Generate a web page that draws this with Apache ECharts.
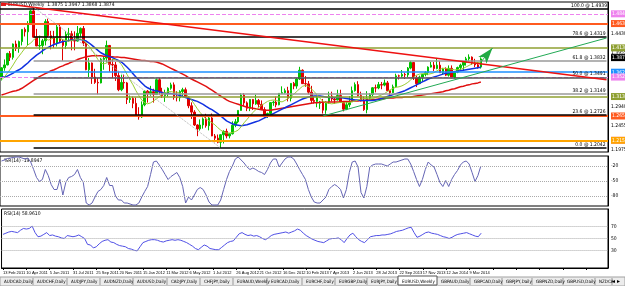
<!DOCTYPE html>
<html><head><meta charset="utf-8">
<script src="https://cdn.jsdelivr.net/npm/echarts/dist/echarts.min.js"></script>
<style>html,body{margin:0;padding:0;background:#fff;}#c{width:625px;height:286px;}</style>
</head><body><div id="c"></div><script>
// ---------- DATA ----------
const tickLabels = ['13 Feb 2011','10 Apr 2011','5 Jun 2011','31 Jul 2011','25 Sep 2011','20 Nov 2011','15 Jan 2012','11 Mar 2012','6 May 2012','1 Jul 2012','26 Aug 2012','21 Oct 2012','16 Dec 2012','10 Feb 2013','7 Apr 2013','2 Jun 2013','28 Jul 2013','22 Sep 2013','17 Nov 2013','12 Jan 2014','9 Mar 2014'];
// weekly candles [open, close, low, high]
const candles = [
[1.3490,1.3690,1.3430,1.3700],[1.3690,1.3750,1.3630,1.3862],[1.3750,1.3985,1.3740,1.4000],[1.3985,1.3905,1.3830,1.4036],
[1.3905,1.4180,1.3860,1.4190],[1.4180,1.4090,1.4035,1.4250],[1.4090,1.4230,1.4000,1.4250],[1.4230,1.4480,1.4150,1.4485],
[1.4480,1.4430,1.4335,1.4520],[1.4430,1.4580,1.4150,1.4650],[1.4580,1.4860,1.4580,1.4880],[1.4860,1.4320,1.4310,1.4939],
[1.4320,1.4140,1.4135,1.4490],[1.4140,1.4150,1.4060,1.4350],[1.4150,1.4245,1.3970,1.4285],[1.4245,1.4640,1.4150,1.4690],
[1.4640,1.4350,1.4320,1.4700],[1.4350,1.4305,1.4070,1.4450],[1.4305,1.4190,1.4100,1.4450],[1.4190,1.4530,1.4130,1.4580],
[1.4530,1.4240,1.4205,1.4580],[1.4240,1.4150,1.3835,1.4280],[1.4150,1.4380,1.4075,1.4440],[1.4380,1.4390,1.4230,1.4510],
[1.4390,1.4250,1.4050,1.4450],[1.4250,1.4240,1.4050,1.4440],[1.4240,1.4400,1.4230,1.4550],[1.4400,1.4500,1.4320,1.4520],
[1.4500,1.4200,1.4140,1.4550],[1.4200,1.3650,1.3640,1.4210],[1.3650,1.3790,1.3500,1.3890],[1.3790,1.3500,1.3360,1.3800],
[1.3500,1.3390,1.3360,1.3670],[1.3390,1.3380,1.3145,1.3500],[1.3380,1.3860,1.3370,1.3890],[1.3860,1.3890,1.3650,1.3920],
[1.3890,1.4150,1.3800,1.4250],[1.4150,1.3760,1.3610,1.4160],[1.3760,1.3750,1.3480,1.3875],[1.3750,1.3530,1.3420,1.3810],
[1.3530,1.3240,1.3210,1.3620],[1.3240,1.3390,1.3210,1.3550],[1.3390,1.3380,1.3260,1.3550],[1.3380,1.3040,1.2945,1.3400],
[1.3040,1.3060,1.2970,1.3120],[1.3060,1.2960,1.2860,1.3100],
[1.2960,1.2720,1.2710,1.3080],[1.2720,1.2680,1.2624,1.2880],[1.2680,1.2930,1.2660,1.3000],[1.2930,1.3210,1.2900,1.3230],
[1.3210,1.3160,1.2975,1.3235],[1.3160,1.3200,1.3110,1.3320],[1.3200,1.3140,1.2975,1.3260],[1.3140,1.3445,1.3140,1.3470],
[1.3445,1.3195,1.3140,1.3486],[1.3195,1.3120,1.3070,1.3280],[1.3120,1.3175,1.2990,1.3240],[1.3175,1.3270,1.3100,1.3290],
[1.3270,1.3340,1.3240,1.3385],[1.3340,1.3080,1.3035,1.3390],[1.3080,1.3075,1.3000,1.3210],[1.3075,1.3205,1.3000,1.3230],
[1.3205,1.3240,1.3110,1.3280],[1.3240,1.3090,1.3085,1.3285],[1.3090,1.2910,1.2860,1.3100],[1.2910,1.2780,1.2640,1.2980],
[1.2780,1.2515,1.2495,1.2820],[1.2515,1.2435,1.2285,1.2530],[1.2435,1.2515,1.2400,1.2630],[1.2515,1.2640,1.2440,1.2670],
[1.2640,1.2500,1.2460,1.2745],[1.2500,1.2660,1.2405,1.2690],[1.2660,1.2290,1.2285,1.2750],[1.2290,1.2245,1.2160,1.2330],
[1.2245,1.2160,1.2140,1.2320],[1.2160,1.2315,1.2042,1.2325],[1.2315,1.2385,1.2135,1.2405],[1.2385,1.2290,1.2240,1.2440],
[1.2290,1.2335,1.2240,1.2345],[1.2335,1.2510,1.2320,1.2590],[1.2510,1.2580,1.2470,1.2640],[1.2580,1.2815,1.2550,1.2820],
[1.2815,1.3130,1.2810,1.3170],[1.3130,1.2970,1.2900,1.3170],[1.2970,1.2860,1.2800,1.3000],[1.2860,1.3040,1.2800,1.3045],
[1.3040,1.2950,1.2825,1.3050],[1.2950,1.3020,1.2930,1.3140],[1.3020,1.2940,1.2880,1.3050],[1.2940,1.2830,1.2825,1.3020],
[1.2830,1.2710,1.2660,1.2880],[1.2710,1.2750,1.2660,1.2770],[1.2750,1.2975,1.2740,1.2985],[1.2975,1.2985,1.2910,1.3015],
[1.2985,1.2930,1.2880,1.3100],[1.2930,1.3165,1.2920,1.3170],[1.3165,1.3180,1.3160,1.3310],[1.3180,1.3220,1.3160,1.3265],
[1.3220,1.3065,1.3000,1.3300],
[1.3065,1.3370,1.3000,1.3375],[1.3370,1.3315,1.3250,1.3400],[1.3315,1.3460,1.3260,1.3480],[1.3460,1.3640,1.3440,1.3711],
[1.3640,1.3365,1.3360,1.3660],[1.3365,1.3360,1.3300,1.3520],[1.3360,1.3190,1.3145,1.3420],[1.3190,1.3020,1.2965,1.3320],
[1.3020,1.3000,1.2955,1.3110],[1.3000,1.3075,1.2880,1.3110],[1.2960,1.2985,1.2845,1.3010],[1.2985,1.2820,1.2750,1.3050],
[1.2820,1.2990,1.2745,1.3000],[1.2990,1.3110,1.2950,1.3200],[1.3110,1.3050,1.3000,1.3200],[1.3050,1.3030,1.2950,1.3090],
[1.3030,1.3120,1.3020,1.3240],[1.3120,1.2990,1.2985,1.3240],[1.2990,1.2840,1.2795,1.3000],[1.2840,1.2930,1.2820,1.2990],
[1.2930,1.2995,1.2880,1.3110],[1.2995,1.3220,1.2990,1.3305],[1.3220,1.3345,1.3200,1.3390],[1.3345,1.3120,1.3105,1.3415],
[1.3120,1.3010,1.3000,1.3200],[1.3010,1.2830,1.2805,1.3100],[1.2830,1.3065,1.2755,1.3210],[1.3065,1.3140,1.3030,1.3170],
[1.3140,1.3280,1.3100,1.3295],[1.3280,1.3275,1.3185,1.3345],[1.3275,1.3345,1.3250,1.3400],[1.3345,1.3335,1.3250,1.3400],
[1.3335,1.3380,1.3310,1.3450],[1.3380,1.3220,1.3215,1.3420],[1.3220,1.3180,1.3105,1.3225],[1.3180,1.3300,1.3170,1.3345],
[1.3300,1.3525,1.3290,1.3570],[1.3525,1.3520,1.3450,1.3550],[1.3520,1.3555,1.3490,1.3645],[1.3555,1.3545,1.3460,1.3590],
[1.3545,1.3685,1.3495,1.3705],[1.3685,1.3800,1.3660,1.3832],[1.3800,1.3485,1.3440,1.3810],[1.3485,1.3365,1.3295,1.3530],
[1.3365,1.3500,1.3360,1.3530],[1.3500,1.3555,1.3400,1.3560],[1.3555,1.3590,1.3515,1.3620],[1.3590,1.3705,1.3540,1.3720],
[1.3705,1.3745,1.3695,1.3810],[1.3745,1.3675,1.3625,1.3810],[1.3675,1.3745,1.3660,1.3893],[1.3745,1.3590,1.3585,1.3830],
[1.3590,1.3665,1.3550,1.3690],[1.3665,1.3540,1.3520,1.3700],[1.3540,1.3680,1.3510,1.3740],[1.3680,1.3485,1.3480,1.3740],
[1.3485,1.3600,1.3477,1.3620],[1.3600,1.3695,1.3580,1.3715],[1.3695,1.3745,1.3640,1.3775],[1.3745,1.3805,1.3640,1.3825],
[1.3805,1.3875,1.3735,1.3915],[1.3875,1.3910,1.3825,1.3967],[1.3910,1.3790,1.3750,1.3925],[1.3790,1.3750,1.3705,1.3875],
[1.3750,1.3705,1.3673,1.3810],[1.3705,1.3874,1.3675,1.3905]
];
const maBlue = [1.350,1.350,1.352,1.355,1.358,1.362,1.365,1.369,1.374,1.379,1.385,1.390,1.395,1.399,1.404,1.408,1.411,1.414,
1.417,1.419,1.421,1.423,1.424,1.425,1.426,1.427,1.427,1.427,1.426,1.424,1.420,1.415,1.410,1.405,1.400,1.397,
1.394,1.392,1.390,1.387,1.384,1.381,1.376,1.370,1.364,1.357,1.350,1.344,1.338,1.332,1.328,1.325,1.323,1.322,
1.320,1.318,1.317,1.316,1.316,1.315,1.314,1.312,1.310,1.308,1.306,1.304,1.302,1.300,1.297,1.294,1.290,1.286,
1.283,1.279,1.275,1.270,1.265,1.260,1.257,1.254,1.252,1.251,1.250,1.251,1.252,1.254,1.256,1.258,1.260,1.263,
1.266,1.269,1.272,1.275,1.278,1.281,1.284,1.287,1.290,1.293,1.296,1.299,1.302,1.305,1.307,1.309,1.310,1.311,
1.311,1.311,1.310,1.309,1.308,1.308,1.308,1.308,1.308,1.307,1.306,1.305,1.304,1.303,1.303,1.302,1.302,1.302,
1.302,1.302,1.303,1.304,1.306,1.308,1.310,1.312,1.314,1.316,1.318,1.320,1.322,1.325,1.328,1.331,1.334,1.337,
1.340,1.343,1.346,1.348,1.350,1.352,1.354,1.356,1.358,1.359,1.360,1.361,1.362,1.363,1.364,1.365,1.366,1.367,
1.368,1.369,1.370];
const maRed = [1.313,1.315,1.317,1.319,1.321,1.322,1.324,1.327,1.331,1.335,1.339,1.343,1.347,1.351,1.354,1.357,1.360,1.363,
1.365,1.368,1.371,1.373,1.376,1.378,1.381,1.383,1.386,1.388,1.390,1.392,1.393,1.394,1.394,1.394,1.394,1.393,
1.393,1.392,1.392,1.391,1.391,1.390,1.390,1.389,1.388,1.387,1.386,1.385,1.384,1.384,1.383,1.382,1.382,1.381,
1.379,1.377,1.374,1.371,1.368,1.365,1.362,1.359,1.356,1.353,1.349,1.346,1.343,1.340,1.337,1.334,1.331,1.327,
1.323,1.319,1.315,1.311,1.307,1.303,1.300,1.298,1.296,1.294,1.292,1.290,1.288,1.287,1.286,1.285,1.284,1.283,
1.282,1.282,1.282,1.283,1.284,1.285,1.286,1.287,1.288,1.289,1.290,1.291,1.292,1.293,1.294,1.295,1.296,1.297,
1.297,1.298,1.298,1.298,1.299,1.299,1.299,1.299,1.299,1.300,1.300,1.300,1.301,1.301,1.301,1.302,1.302,1.303,
1.303,1.304,1.304,1.305,1.305,1.306,1.307,1.307,1.307,1.308,1.308,1.308,1.309,1.309,1.309,1.310,1.311,1.312,
1.313,1.314,1.315,1.316,1.317,1.318,1.319,1.320,1.322,1.323,1.325,1.326,1.328,1.330,1.331,1.333,1.334,1.336,
1.337,1.338,1.340];
const maOlive = [1.344,1.350,1.358,1.366,1.375,1.385,1.393,1.401,1.409,1.416,1.420,1.426,1.432,1.434,1.433,1.430,1.426,1.428,
1.431,1.432,1.430,1.427,1.425,1.424,1.425,1.427,1.428,1.428,1.426,1.420,1.413,1.405,1.396,1.386,1.379,1.377,
1.379,1.383,1.386,1.386,1.382,1.376,1.366,1.355,1.344,1.334,1.322,1.312,1.303,1.297,1.295,1.297,1.301,1.305,
1.310,1.315,1.318,1.320,1.320,1.319,1.319,1.317,1.316,1.315,1.310,1.303,1.294,1.285,1.277,1.270,1.264,1.260,
1.256,1.252,1.246,1.241,1.237,1.235,1.235,1.236,1.238,1.241,1.248,1.256,1.263,1.270,1.277,1.283,1.288,1.292,
1.296,1.300,1.302,1.303,1.302,1.300,1.299,1.302,1.306,1.310,1.315,1.320,1.326,1.331,1.333,1.331,1.326,1.320,
1.313,1.306,1.300,1.297,1.296,1.295,1.296,1.297,1.298,1.297,1.297,1.298,1.299,1.301,1.303,1.305,1.306,1.306,
1.305,1.306,1.308,1.311,1.313,1.316,1.320,1.324,1.327,1.329,1.330,1.332,1.335,1.339,1.344,1.350,1.354,1.356,
1.357,1.357,1.356,1.357,1.359,1.363,1.366,1.368,1.368,1.367,1.366,1.365,1.365,1.366,1.368,1.371,1.374,1.377,
1.379,1.380,1.381];
const wpr = [-10,-8,-5,-4,-3,-2,-2,-4,-6,-4,-12,-27,-43,-51,-47,-27,-39,-57,-67,-67,
-47,-78,-53,-43,-41,-37,-27,-43,-53,-94,-98,-94,-82,-71,-67,-59,-43,-59,-59,-80,
-88,-88,-94,-94,-96,-98,-98,-94,-82,-71,-61,-37,-12,-10,-18,-27,-37,-47,-41,-37,
-33,-43,-61,-94,-82,-88,-78,-67,-63,-67,-78,-92,-98,-98,-98,-88,-67,-47,-31,-20,
-6,-2,-8,-14,-22,-27,-24,-27,-31,-33,-37,-27,-14,-6,-6,-22,-14,-6,-2,-2,
-6,-16,-27,-37,-47,-67,-82,-92,-94,-94,-88,-82,-67,-61,-57,-61,-67,-84,-67,-33,
-12,-10,-22,-73,-84,-61,-22,-18,-16,-16,-16,-18,-20,-16,-12,-12,-10,-8,-6,-6,
-16,-31,-47,-61,-47,-27,-12,-18,-22,-37,-53,-61,-49,-61,-47,-37,-29,-18,-12,-10,
-16,-33,-51,-39,-20];
const rsi = [57,59,61,62,61,60,64,67,66,67,71,60,53,54,57,60,55,56,54,53,
51,50,55,54,53,54,56,53,50,40,39,34,36,41,45,47,48,44,43,40,
38,37,36,33,32,30,29,36,43,45,47,48,48,47,45,44,46,47,48,47,
48,47,45,43,40,37,33,31,35,39,37,33,32,31,31,35,39,43,45,46,
52,58,60,57,55,56,54,55,53,50,48,51,55,57,58,59,60,61,59,61,
63,66,64,59,55,52,49,47,45,44,43,46,49,50,50,51,48,43,50,56,
59,53,48,45,43,48,53,54,55,55,56,56,57,58,60,62,63,64,66,68,
69,60,52,54,57,60,61,59,58,57,55,53,52,50,52,55,57,58,59,60,
58,56,54,53,59];
const priceTicks = [1.4430, 1.3955, 1.3470, 1.2940, 1.2455, 1.1975];
const fibNames = ['100.0','78.6','61.8','50.0','38.2','23.6','0.0'];
const fibLevels = [1.4939, 1.4319, 1.3832, 1.3491, 1.3149, 1.2726, 1.2042];
const pivotLevels = [1.4847, 1.4631, 1.4138, 1.3624, 1.3522, 1.3131, 1.2659, 1.2206, 1.2155];
const lastPrice = 1.3874;
const redTrend = [[0, 1.5018], [207, 1.3444]];
const greenTrend = [[110, 1.2700], [207, 1.4303]];
const fibDiagonal = [[11, 1.4939], [75, 1.2042]];
const arrowLine = [[164, 1.3809], [168, 1.4097]];
const wprLevels = [-20, -50, -80];
const rsiLevels = [70, 50, 30];
const titleText = 'EURUSD,Weekly  1.3875 1.3947 1.3868 1.3874';
const wprTitle = '%R(14) -19.8947';
const rsiTitle = 'RSI(14) 58.9610';
const tabNames = ['AUDCAD,Daily','AUDCHF,Daily','AUDJPY,Daily','AUDNZD,Daily','AUDUSD,Daily','CADJPY,Daily','CHFJPY,Daily','EURAUD,Weekly','EURCAD,Daily','EURCHF,Daily','EURGBP,Daily','EURJPY,Daily','EURUSD,Weekly','GBPAUD,Daily','GBPCAD,Daily','GBPJPY,Daily','GBPNZD,Daily','GBPUSD,Daily','NZDCA'];

// ---------- LAYOUT / STYLE ----------
const NSLOT = 208;
const slots = Array.from({length: NSLOT}, (_, i) => i);
const FONT = "'Liberation Sans Narrow', 'DejaVu Sans Condensed', 'Liberation Sans', sans-serif";
const tabEdges = [0,33,67,100,133,167,200,233,267,302,335,367,398,437,470,502,532,563,595,612];
const activeTab = 12;
const pivotStyles = [
  {c:'#ee82ee', w:1, t:'dashed'}, {c:'#ff5a1f', w:2, t:'solid'}, {c:'#8fa032', w:1.5, t:'solid'},
  {c:'#1e90ff', w:1.5, t:'solid'}, {c:'#ee82ee', w:1, t:'dashed'}, {c:'#8fa032', w:1.5, t:'solid'},
  {c:'#ff5a1f', w:2, t:'solid'}, {c:'#ee82ee', w:1, t:'dashed'}, {c:'#ffa500', w:2, t:'solid'}];
const fibColors = ['#000','#000','#9a9a9a','#555','#9a9a9a','#000','#000'];
const HIDDEN = {color:'rgba(0,0,0,0)', width:0};

const axisLblStyle = {show:true, position:'end', distance:3, fontSize:5, fontFamily:FONT, color:'#000'};
const mk = [];
priceTicks.forEach(v => mk.push({yAxis:v, lineStyle:HIDDEN, label:Object.assign({}, axisLblStyle, {formatter: v.toFixed(4)})}));
pivotLevels.forEach((v,i) => {
  const s = pivotStyles[i];
  mk.push({yAxis:v, lineStyle:{color:s.c, width:s.w, type:s.t},
    label:Object.assign({}, axisLblStyle, {formatter:v.toFixed(4), backgroundColor:s.c, color:'#fff', padding:[1,1]})});
});
fibLevels.forEach((v,i) => {
  const lbl = {show:true, position:'insideEndTop', distance:1, fontSize:5, fontFamily:FONT, color:'#000',
               formatter: fibNames[i] + ' @ ' + v.toFixed(4)};
  if (i === 0) {
    mk.push({yAxis:v, lineStyle:{color:fibColors[i], width:1.5, type:'solid'}, label:lbl});
  } else {
    mk.push([{coord:[11, v], lineStyle:{color:fibColors[i], width:1.5, type:'solid'}, label:lbl}, {coord:[207, v]}]);
  }
});
mk.push({yAxis:lastPrice, lineStyle:HIDDEN,
  label:Object.assign({}, axisLblStyle, {formatter:lastPrice.toFixed(4), backgroundColor:'#000', color:'#fff', padding:[1,1]})});
const seg = (pts, style, sym) => [{coord:pts[0], lineStyle:style, symbol: sym ? sym[0] : 'none', label:{show:false}},
                                   {coord:pts[1], symbol: sym ? sym[1] : 'none'}];
mk.push(seg(redTrend, {color:'#ee1111', width:1.5, type:'solid'}));
mk.push(seg(greenTrend, {color:'#22aa55', width:1, type:'solid'}));
mk.push(seg(fibDiagonal, {color:'#b0b0b0', width:1, type:'dotted'}));
mk.push(seg(arrowLine, {color:'#22aa44', width:1, type:'solid'}, ['none','arrow']));

const oscMarks = (levels) => levels.map(v => ({yAxis:v, lineStyle:{color:'#aaa', width:1, type:'dotted'},
  label:Object.assign({}, axisLblStyle, {formatter:String(v)})}));

const graphics = [];
graphics.push({type:'text', left:8, top:2, style:{text:titleText, fontSize:5, fontFamily:FONT, fill:'#000'}});
graphics.push({type:'rect', shape:{x:1, y:3, width:5, height:3}, style:{fill:'#d22'}});
graphics.push({type:'text', left:4, top:158, style:{text:wprTitle, fontSize:5, fontFamily:FONT, fill:'#000'}});
graphics.push({type:'text', left:4, top:211, style:{text:rsiTitle, fontSize:5, fontFamily:FONT, fill:'#000'}});
graphics.push({type:'rect', shape:{x:0, y:277, width:625, height:9}, style:{fill:'#ececec', stroke:'#a0a0a0', lineWidth:1}});
tabNames.forEach((name, i) => {
  const x0 = tabEdges[i], x1 = tabEdges[i+1];
  if (i === activeTab) {
    graphics.push({type:'rect', shape:{x:x0, y:276, width:x1-x0, height:9}, style:{fill:'#fff', stroke:'#555', lineWidth:1}});
  } else {
    graphics.push({type:'line', shape:{x1:x1, y1:278, x2:x1, y2:285}, style:{stroke:'#999', lineWidth:1}});
  }
  graphics.push({type:'text', left:x0 + 4, top:279, style:{text:name, fontSize:4.5, fontFamily:FONT, fill:'#000'}});
});
graphics.push({type:'text', left:612, top:278, style:{text:'◂ ▸', fontSize:6, fontFamily:'DejaVu Sans', fill:'#000'}});

const chart = echarts.init(document.getElementById('c'), null, {renderer:'canvas'});
const gridBase = {left:0, right:17, show:true, borderColor:'#000', borderWidth:1, backgroundColor:'#fff'};
const xBase = {type:'category', data:slots, boundaryGap:true, axisLine:{show:false}, axisTick:{show:false}, axisLabel:{show:false}, splitLine:{show:false}};
const yBase = {type:'value', position:'right', axisLine:{show:true, lineStyle:{color:'#000'}}, axisTick:{show:false}, axisLabel:{show:false}, splitLine:{show:false}};
chart.setOption({
  animation:false,
  backgroundColor:'#fff',
  grid:[Object.assign({top:2, height:150}, gridBase), Object.assign({top:156, height:50}, gridBase), Object.assign({top:209, height:59}, gridBase)],
  xAxis:[Object.assign({gridIndex:0}, xBase), Object.assign({gridIndex:1}, xBase),
    Object.assign({}, xBase, {gridIndex:2, axisLine:{show:true, lineStyle:{color:'#000'}},
      axisTick:{show:true, interval:7, length:2, alignWithLabel:true, lineStyle:{color:'#000'}},
      axisLabel:{show:true, interval:7, showMinLabel:true, hideOverlap:false, align:'left', margin:3, fontSize:4, fontFamily:"'Liberation Sans', sans-serif", color:'#000',
        formatter:(v, i) => tickLabels[i/8] || ''}})],
  yAxis:[Object.assign({gridIndex:0, min:1.1960, max:1.5043}, yBase), Object.assign({gridIndex:1, min:-100, max:0}, yBase), Object.assign({gridIndex:2, min:0, max:100}, yBase)],
  graphic:graphics,
  series:[
    {type:'line', name:'levels', xAxisIndex:0, yAxisIndex:0, data:[], silent:true, z:1,
      markLine:{silent:true, symbol:'none', animation:false, data:mk}},
    {type:'candlestick', xAxisIndex:0, yAxisIndex:0, data:candles, barWidth:2, z:3,
      itemStyle:{color:'#00c000', color0:'#e00000', borderColor:'#00c000', borderColor0:'#e00000', borderWidth:1}},
    {type:'line', xAxisIndex:0, yAxisIndex:0, data:maRed, showSymbol:false, z:4, lineStyle:{color:'#e01010', width:1.5}},
    {type:'line', xAxisIndex:0, yAxisIndex:0, data:maBlue, showSymbol:false, z:4, lineStyle:{color:'#1030e0', width:1.5}},
    {type:'line', xAxisIndex:0, yAxisIndex:0, data:maOlive, showSymbol:false, z:4, lineStyle:{color:'#9acd32', width:1}},
    {type:'line', xAxisIndex:1, yAxisIndex:1, data:wpr, showSymbol:false, lineStyle:{color:'#6464b4', width:1},
      markLine:{silent:true, symbol:'none', animation:false, data:oscMarks(wprLevels)}},
    {type:'line', xAxisIndex:2, yAxisIndex:2, data:rsi, showSymbol:false, lineStyle:{color:'#5050e6', width:1},
      markLine:{silent:true, symbol:'none', animation:false, data:oscMarks(rsiLevels)}}
  ]
});
</script></body></html>
